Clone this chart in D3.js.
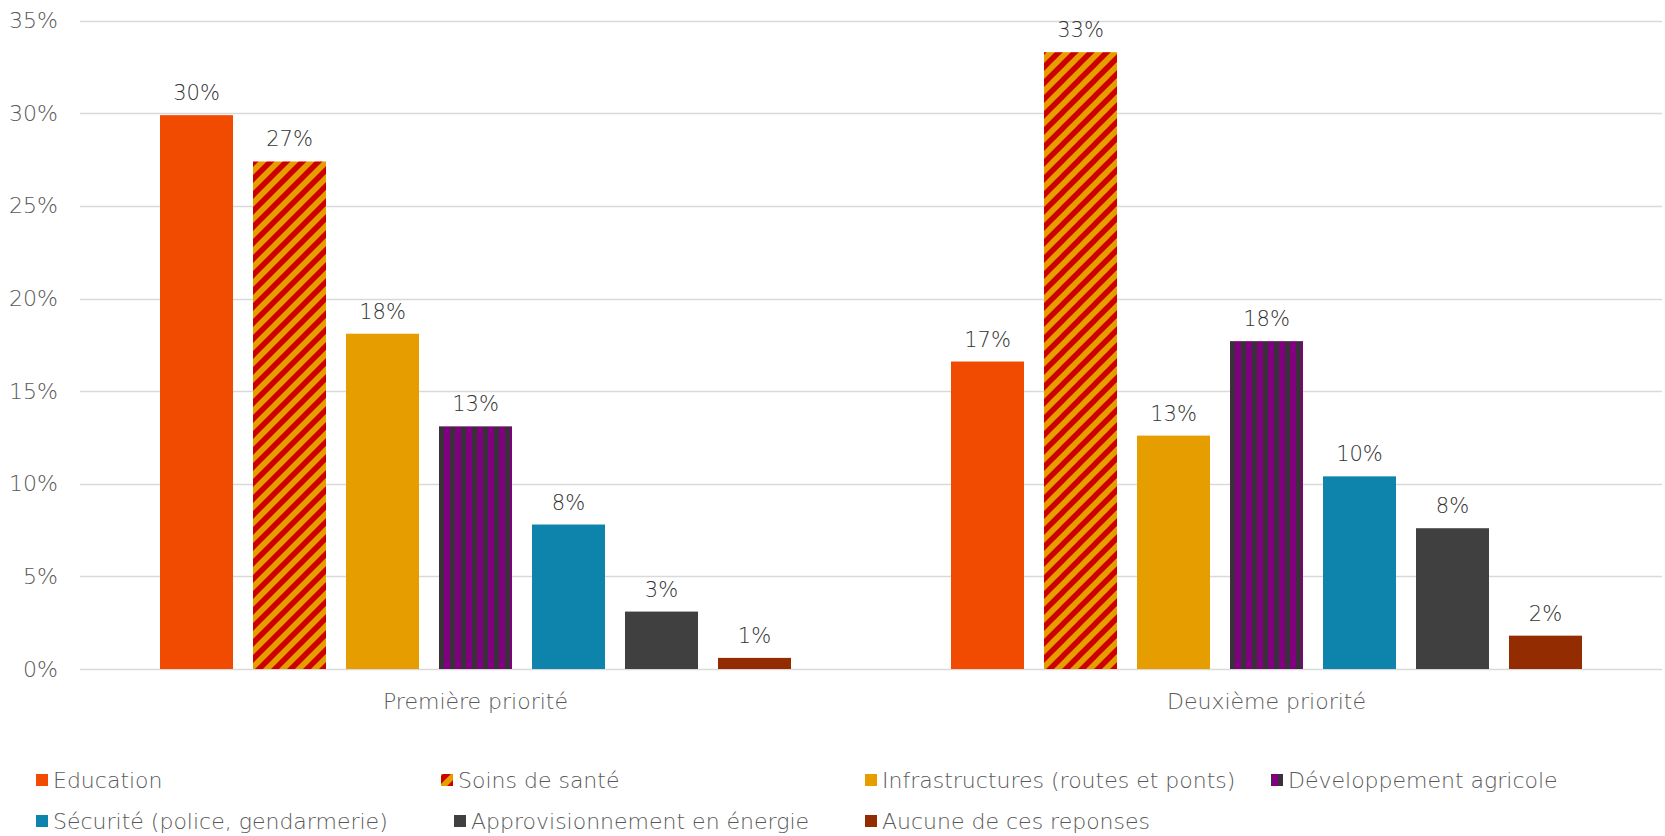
<!DOCTYPE html>
<html>
<head>
<meta charset="utf-8">
<script src="https://cdn.jsdelivr.net/npm/d3@7"></script>
<style>
  html, body { margin: 0; padding: 0; background: #fff; }
  svg { display: block; font-family: "Century Gothic", "DejaVu Sans", sans-serif; font-weight: 200; }
</style>
</head>
<body>
<svg id="chart" width="1665" height="836"></svg>
<script>
// ---- data ----
const groups = ["Première priorité", "Deuxième priorité"];
const series = [
  "Education",
  "Soins de santé",
  "Infrastructures (routes et ponts)",
  "Développement agricole",
  "Sécurité (police, gendarmerie)",
  "Approvisionnement en énergie",
  "Aucune de ces reponses"
];
const valuesFirst  = [0.299, 0.274, 0.181, 0.131, 0.078, 0.031, 0.006];
const valuesSecond = [0.166, 0.333, 0.126, 0.177, 0.104, 0.076, 0.018];
const yTicks = [0, 0.05, 0.10, 0.15, 0.20, 0.25, 0.30, 0.35];

// ---- styles ----
const fills = ["#F04B00", "url(#pSoins)", "#E69D00", "url(#pDev)", "#0E84AC", "#404040", "#932C00"];
const legendPos = [[36, 780], [441, 780], [865, 780], [1271, 780], [36, 821], [454, 821], [865, 821]];

const svg = d3.select("#chart");
const defs = svg.append("defs");

const plotLeft = 80, plotRight = 1662;
const y = d3.scaleLinear().domain([0, 0.35]).range([669, 20.7]);
const x0 = d3.scaleBand().domain(groups).range([plotLeft, plotRight]).padding(0);
const x1 = d3.scaleBand().domain(series).range([80, x0.bandwidth() - 80]).paddingInner(0.215).paddingOuter(0);

// diagonal stripes (orange / red)
const p1 = defs.append("pattern").attr("id", "pSoins")
  .attr("patternUnits", "userSpaceOnUse").attr("width", 16).attr("height", 16);
p1.append("rect").attr("width", 16).attr("height", 16).attr("fill", "#E69D00");
p1.append("path")
  .attr("d", "M-4,4 L4,-4 M-4,20 L20,-4 M12,20 L20,12")
  .attr("stroke", "#CC0000").attr("stroke-width", 5.5);

// vertical stripes (purple / dark)
const devX = x0(groups[0]) + x1(series[3]) + 2;
const p2 = defs.append("pattern").attr("id", "pDev")
  .attr("patternUnits", "userSpaceOnUse").attr("x", devX).attr("width", 11).attr("height", 10);
p2.append("rect").attr("width", 11).attr("height", 10).attr("fill", "#3A3039");
p2.append("rect").attr("x", 0).attr("width", 6).attr("height", 10).attr("fill", "#800080");

// gridlines
svg.append("g").selectAll("line").data(yTicks).join("line")
  .attr("x1", plotLeft).attr("x2", plotRight)
  .attr("y1", d => Math.round(y(d)) + 0.5).attr("y2", d => Math.round(y(d)) + 0.5)
  .attr("stroke", "#D9D9D9").attr("stroke-width", 1.5);

// y axis labels
const yAxis = d3.axisLeft(y).tickValues(yTicks).tickFormat(d3.format(".0%")).tickSize(0).tickPadding(0);
const gy = svg.append("g").attr("transform", "translate(58,0)").call(yAxis);
gy.attr("font-family", null).attr("font-size", null);
gy.select(".domain").remove();
gy.selectAll("text").attr("fill", "#595959").attr("font-size", 22);

// bars
const dataByGroup = [valuesFirst, valuesSecond];
const fmt = d3.format(".0%");
groups.forEach((g, gi) => {
  const gg = svg.append("g").attr("transform", `translate(${x0(g)},0)`);
  const rows = series.map((s, i) => ({ s, v: dataByGroup[gi][i], f: fills[i] }));
  gg.selectAll("rect").data(rows).join("rect")
    .attr("x", d => x1(d.s)).attr("width", x1.bandwidth())
    .attr("y", d => y(d.v)).attr("height", d => y(0) - y(d.v))
    .attr("fill", d => d.f);
  gg.selectAll("text").data(rows).join("text")
    .attr("x", d => x1(d.s) + x1.bandwidth() / 2)
    .attr("y", d => y(d.v) - 15)
    .attr("text-anchor", "middle").attr("font-size", 21).attr("fill", "#333333")
    .text(d => fmt(d.v));
});

// category labels
svg.append("g").selectAll("text").data(groups).join("text")
  .attr("x", d => x0(d) + x0.bandwidth() / 2).attr("y", 709)
  .attr("text-anchor", "middle").attr("font-size", 22).attr("fill", "#595959")
  .text(d => d);

// legend
const lg = svg.append("g").selectAll("g").data(series).join("g")
  .attr("transform", (d, i) => `translate(${legendPos[i][0]},${legendPos[i][1]})`);
lg.append("rect").attr("x", 0).attr("y", -6).attr("width", 12).attr("height", 12)
  .attr("fill", (d, i) => fills[i]);
lg.append("text").attr("x", 17).attr("dy", "0.35em").attr("font-size", 22).attr("fill", "#595959")
  .text(d => d);
</script>
</body>
</html>
